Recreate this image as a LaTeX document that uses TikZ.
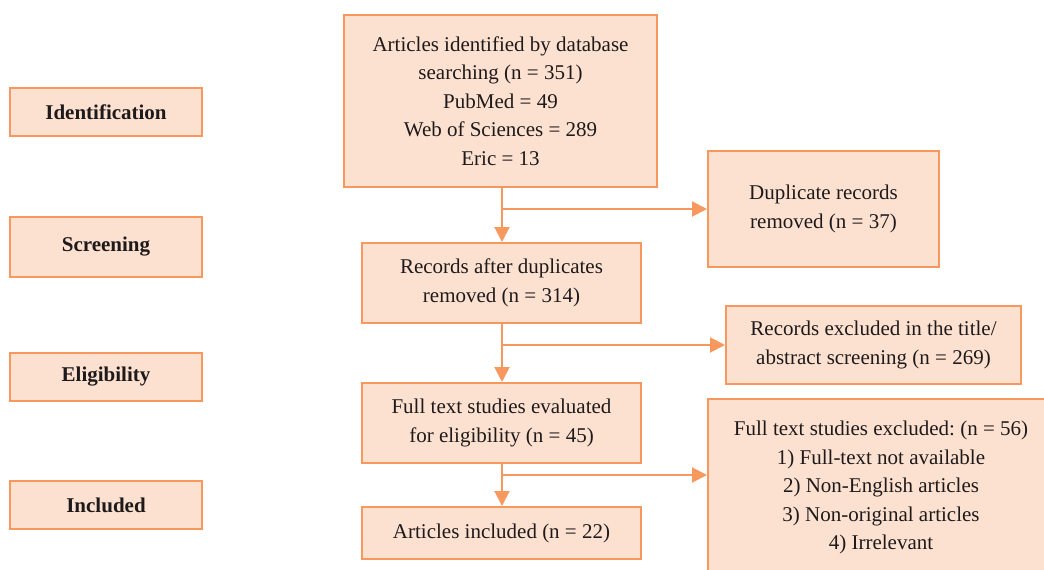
\documentclass[tikz,border=0pt]{standalone}
\usepackage{fontspec}
\setmainfont{Liberation Serif}
\usetikzlibrary{arrows.meta}
\definecolor{boxline}{RGB}{247,152,94}
\definecolor{boxfill}{RGB}{253,225,208}
\definecolor{txt}{RGB}{30,26,27}
\frenchspacing
\begin{document}
\begin{tikzpicture}[x=1pt,y=-1pt,
  box/.style={draw=boxline,fill=boxfill,line width=2pt,inner sep=0pt,
    align=center,text=txt,font={\fontsize{21}{28.5}\selectfont}},
  stage/.style={box,minimum width=192pt,font={\fontsize{21}{28.5}\selectfont\bfseries}},
  arr/.style={draw=boxline,line width=2pt,-{Triangle[length=15pt,width=15pt]}}]
\clip (0,0) rectangle (1044,570);
\useasboundingbox (0,0) rectangle (1044,570);

% stage labels
\node[stage,minimum height=48pt] (sid) at (106,112) {Identification};
\node[stage,minimum height=60pt] (ssc) at (106,247) {Screening};
\node[stage,minimum height=48pt] (sel) at (106,377) {Eligibility};
\node[stage,minimum height=48pt] (sin) at (106,505) {Included};

% main flow
\node[box,minimum width=313pt,minimum height=172pt] (A) at (500.5,101)
  {Articles identified by database\\searching (n = 351)\\PubMed = 49\\Web of Sciences = 289\\Eric = 13};
\node[box,minimum width=231pt,minimum height=116pt] (D) at (823.5,209)
  {Duplicate records\\removed (n = 37)};
\node[box,minimum width=279pt,minimum height=80pt] (R) at (501.5,283)
  {Records after duplicates\\removed (n = 314)};
\node[box,minimum width=295pt,minimum height=78pt] (E) at (873.5,345)
  {Records excluded in the title/\\abstract screening (n = 269)};
\node[box,minimum width=279pt,minimum height=80pt] (T) at (501.5,423)
  {Full text studies evaluated\\for eligibility (n = 45)};
\node[box,minimum width=346pt,minimum height=177pt] (F) at (881,487.5)
  {Full text studies excluded: (n = 56)\\1) Full-text not available\\2) Non-English articles\\3) Non-original articles\\4) Irrelevant};
\node[box,minimum width=279pt,minimum height=52pt] (I) at (501.5,533)
  {Articles included (n = 22)};

% connectors
\coordinate (col) at (502,0);
\coordinate (b1) at (502,209);
\coordinate (b2) at (502,345);
\coordinate (b3) at (502,475);
\draw[arr] (A.south -| col) -- (R.north -| col);
\draw[arr] (b1) -- (b1 -| D.west);
\draw[arr] (R.south -| col) -- (T.north -| col);
\draw[arr] (b2) -- (b2 -| E.west);
\draw[arr] (T.south -| col) -- (I.north -| col);
\draw[arr] (b3) -- (b3 -| F.west);
\end{tikzpicture}
\end{document}
